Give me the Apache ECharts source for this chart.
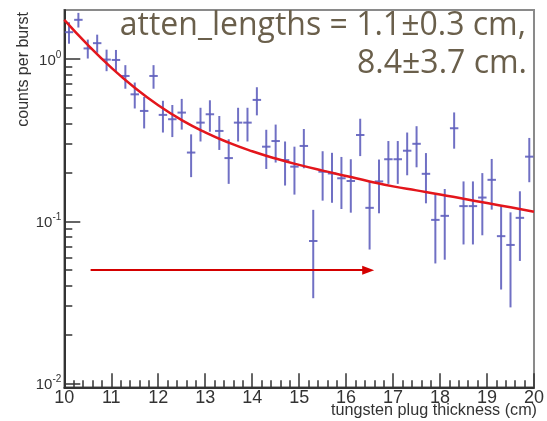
<!DOCTYPE html>
<html>
<head>
<meta charset="utf-8">
<script src="https://cdn.jsdelivr.net/npm/echarts@6/dist/echarts.min.js"></script>
<style>
  html, body { margin: 0; padding: 0; background: #ffffff; }
  #chart { width: 547px; height: 421px; }
</style>
</head>
<body>
<div id="chart"></div>
<script>
// Bin centres (cm), measured counts per burst and their errors
const thickness = [
  10.1, 10.3, 10.5, 10.7, 10.9, 11.1, 11.3, 11.5, 11.7, 11.9,
  12.1, 12.3, 12.5, 12.7, 12.9, 13.1, 13.3, 13.5, 13.7, 13.9,
  14.1, 14.3, 14.5, 14.7, 14.9, 15.1, 15.3, 15.5, 15.7, 15.9,
  16.1, 16.3, 16.5, 16.7, 16.9, 17.1, 17.3, 17.5, 17.7, 17.9,
  18.1, 18.3, 18.5, 18.7, 18.9, 19.1, 19.3, 19.5, 19.7, 19.9
];
const counts = [
  1.46, 1.74, 1.16, 1.25, 0.99, 0.985, 0.785, 0.605, 0.478, 0.785,
  0.452, 0.425, 0.467, 0.265, 0.405, 0.456, 0.360, 0.245, 0.405, 0.405,
  0.559, 0.288, 0.312, 0.238, 0.217, 0.291, 0.0756, 0.202, 0.197, 0.184,
  0.177, 0.340, 0.121, 0.176, 0.241, 0.241, 0.272, 0.300, 0.196, 0.102,
  0.108, 0.374, 0.124, 0.124, 0.140, 0.180, 0.081, 0.0715, 0.105, 0.250
];
const errors = [
  0.22, 0.18, 0.155, 0.16, 0.15, 0.15, 0.13, 0.11, 0.105, 0.13,
  0.10, 0.095, 0.10, 0.078, 0.095, 0.10, 0.085, 0.075, 0.095, 0.095,
  0.11, 0.078, 0.082, 0.072, 0.071, 0.079, 0.042, 0.068, 0.067, 0.065,
  0.064, 0.088, 0.054, 0.064, 0.071, 0.071, 0.080, 0.085, 0.067, 0.047,
  0.050, 0.094, 0.052, 0.052, 0.058, 0.062, 0.043, 0.042, 0.048, 0.076
];

// Double-exponential fit curve, sampled every 0.5 cm
const fitX = [10, 10.5, 11, 11.5, 12, 12.5, 13, 13.5, 14, 14.5, 15,
              15.5, 16, 16.5, 17, 17.5, 18, 18.5, 19, 19.5, 20];
const fitY = [1.74, 1.22, 0.883, 0.664, 0.518, 0.420, 0.353, 0.305, 0.270, 0.2435, 0.2224,
              0.205, 0.190, 0.176, 0.164, 0.155, 0.1464, 0.1376, 0.1295, 0.1219, 0.1146];

// Horizontal arrow
const arrowX = [10.56, 16.47];
const arrowY = 0.05;

// Axis ticks
const xTicks = [10, 11, 12, 13, 14, 15, 16, 17, 18, 19, 20];
const yMajor = [0.01, 0.1, 1];
const yMinor = [0.02, 0.03, 0.04, 0.05, 0.06, 0.07, 0.08, 0.09,
                0.2, 0.3, 0.4, 0.5, 0.6, 0.7, 0.8, 0.9];

const fitLabel = ['atten_lengths = 1.1±0.3 cm,', '8.4±3.7 cm.'];
const xTitle = 'tungsten plug thickness (cm)';
const yTitle = 'counts per burst';

const pointColor = '#6060be';
const halfBin = 0.09;

const bars = thickness.map((x, i) => [x, counts[i], errors[i]]);
const fitData = fitX.map((x, i) => [x, fitY[i]]);

const chart = echarts.init(document.getElementById('chart'), null, { renderer: 'canvas' });

const axisColor = '#333333';
const tickFont = "'Liberation Sans Narrow', 'Liberation Sans', Arial, sans-serif";

chart.setOption({
  animation: false,
  backgroundColor: '#ffffff',
  grid: {
    left: 64.3, right: 10.3, top: 10, bottom: 33.7,
    show: true, borderColor: '#8a8a8a', borderWidth: 2, backgroundColor: 'transparent'
  },
  xAxis: {
    type: 'value', min: xTicks[0], max: xTicks[xTicks.length - 1], interval: 1,
    axisLine: { show: true, onZero: false, lineStyle: { color: axisColor, width: 2 } },
    axisTick: { show: true, inside: true, length: 14, lineStyle: { color: axisColor, width: 1.5 } },
    minorTick: { show: true, splitNumber: 5, length: 7, lineStyle: { color: axisColor, width: 1.5 } },
    splitLine: { show: false },
    axisLabel: {
      show: true, margin: 2, color: '#333333', fontSize: 18, fontFamily: tickFont,
      showMinLabel: true, showMaxLabel: true
    }
  },
  yAxis: [{
    type: 'log', logBase: 10, min: 0.0095, max: 2.0,
    axisLine: { show: true, onZero: false, lineStyle: { color: axisColor, width: 2 } },
    axisTick: { show: true, inside: true, length: 16, customValues: yMajor,
                lineStyle: { color: axisColor, width: 1.5 } },
    splitLine: { show: false },
    axisLabel: {
      show: true, margin: 3, customValues: yMajor,
      formatter: function (v) {
        const e = Math.round(Math.log10(v));
        return '{b|10}{s|' + e + '}';
      },
      rich: {
        b: { fontSize: 15, fontFamily: tickFont, color: '#333333', lineHeight: 18, verticalAlign: 'bottom' },
        s: { fontSize: 10, fontFamily: tickFont, color: '#333333', lineHeight: 18, verticalAlign: 'top', padding: [0, 0, 6, 0] }
      }
    }
  }, {
    type: 'log', logBase: 10, min: 0.0095, max: 2.0, position: 'left',
    axisLine: { show: false },
    axisTick: { show: true, inside: true, length: 8, customValues: yMinor,
                lineStyle: { color: axisColor, width: 1.5 } },
    axisLabel: { show: false },
    splitLine: { show: false }
  }],
  series: [{
    type: 'custom',
    name: 'data',
    data: bars,
    z: 3,
    renderItem: function (params, api) {
      const x = api.value(0), v = api.value(1), e = api.value(2);
      const lo = Math.max(v - e, 1e-4);
      const pTop = api.coord([x, v + e]);
      const pBot = api.coord([x, lo]);
      const pL = api.coord([x - halfBin, v]);
      const pR = api.coord([x + halfBin, v]);
      const style = { stroke: pointColor, lineWidth: 2, opacity: 0.9 };
      return {
        type: 'group',
        children: [
          { type: 'line', shape: { x1: pTop[0], y1: pTop[1], x2: pBot[0], y2: pBot[1] }, style: style },
          { type: 'line', shape: { x1: pL[0], y1: pL[1], x2: pR[0], y2: pR[1] }, style: style }
        ]
      };
    }
  }, {
    type: 'line',
    name: 'fit',
    data: fitData,
    smooth: true,
    showSymbol: false,
    z: 4,
    lineStyle: { color: '#e3161c', width: 2.5 },
    markLine: {
      silent: true,
      symbol: ['none', 'triangle'],
      symbolSize: [9, 12],
      label: { show: false },
      lineStyle: { color: '#d40000', width: 2, type: 'solid' },
      data: [[{ coord: [arrowX[0], arrowY] }, { coord: [arrowX[1], arrowY] }]]
    }
  }],
  graphic: [{
    type: 'text', x: 526, y: 25.5, z: 10,
    style: { text: fitLabel[0], fill: '#6a5f4b', font: "32px 'Open Sans', sans-serif",
             align: 'right', verticalAlign: 'middle' }
  }, {
    type: 'text', x: 527, y: 64, z: 10,
    style: { text: fitLabel[1], fill: '#6a5f4b', font: "32px 'Open Sans', sans-serif",
             align: 'right', verticalAlign: 'middle' }
  }, {
    type: 'text', x: 537, y: 411, z: 10,
    style: { text: xTitle, fill: '#333333', font: "16.2px 'Liberation Sans', Arial, sans-serif",
             align: 'right', verticalAlign: 'middle' }
  }, {
    type: 'text', x: 24, y: 12, rotation: Math.PI / 2, z: 10,
    style: { text: yTitle, fill: '#333333', font: "16px 'Liberation Sans', Arial, sans-serif",
             align: 'right', verticalAlign: 'middle' }
  }]
});
</script>
</body>
</html>
